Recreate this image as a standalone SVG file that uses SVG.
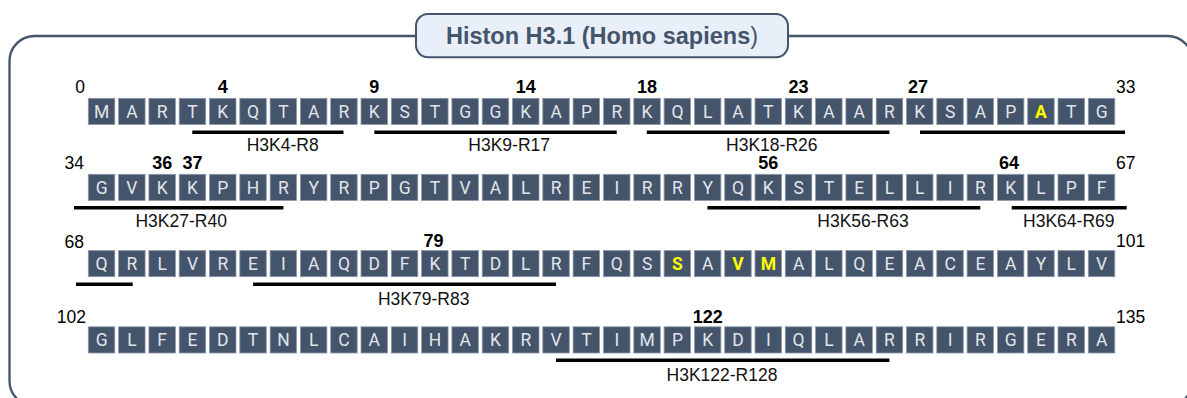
<svg xmlns="http://www.w3.org/2000/svg" xmlns:xlink="http://www.w3.org/1999/xlink" width="1187" height="398" viewBox="0 0 1187 398">
<style>
.bx{fill:#44546a;stroke:#8f9aab;stroke-width:0.8}
.aa{font-family:Roboto,"Liberation Sans",sans-serif;font-size:17.5px;fill:#e1e5eb;text-anchor:middle}
.hl{fill:#ffff00;font-weight:bold}
.num{font-family:"Liberation Sans",Arial,sans-serif;font-size:17.5px;fill:#000}
.bn{font-family:"Liberation Sans",Arial,sans-serif;font-size:18px;font-weight:bold;fill:#000;text-anchor:middle}
.lbl{font-family:"Liberation Sans",Arial,sans-serif;font-size:17.5px;fill:#111;text-anchor:middle}
.bar{stroke:#000;stroke-width:3.5;fill:none}
</style>
<defs><rect id="b" class="bx" width="26.5" height="26.2"/></defs>

<g id="frame">
<rect x="9.5" y="36" width="1183" height="370" rx="25" ry="25" fill="#fff" stroke="#44546a" stroke-width="2.3"/>
</g>
<g id="title">
<rect x="416" y="14" width="372" height="43.3" rx="12" ry="12" fill="#e9eff8" stroke="#44546a" stroke-width="2"/>
<text x="602" y="44" font-family="'Liberation Sans',Arial,sans-serif" font-size="23.5" font-weight="bold" fill="#44546a" text-anchor="middle">Histon H3.1 (Homo sapiens<tspan font-weight="normal">)</tspan></text>
</g>

<g id="row1" transform="translate(0,98.3)">
<use href="#b" x="88.3"/><use href="#b" x="118.6"/><use href="#b" x="148.9"/><use href="#b" x="179.2"/><use href="#b" x="209.5"/><use href="#b" x="239.8"/><use href="#b" x="270.1"/><use href="#b" x="300.4"/><use href="#b" x="330.7"/><use href="#b" x="361"/><use href="#b" x="391.3"/><use href="#b" x="421.6"/><use href="#b" x="451.9"/><use href="#b" x="482.2"/><use href="#b" x="512.5"/><use href="#b" x="542.8"/><use href="#b" x="573.1"/><use href="#b" x="603.5"/><use href="#b" x="633.8"/><use href="#b" x="664.1"/><use href="#b" x="694.4"/><use href="#b" x="724.7"/><use href="#b" x="755"/><use href="#b" x="785.3"/><use href="#b" x="815.6"/><use href="#b" x="845.9"/><use href="#b" x="876.2"/><use href="#b" x="906.5"/><use href="#b" x="936.8"/><use href="#b" x="967.1"/><use href="#b" x="997.4"/><use href="#b" x="1027.7"/><use href="#b" x="1058"/><use href="#b" x="1088.3"/>
<text class="aa" y="19.6"><tspan x="101.6">M</tspan><tspan x="131.9">A</tspan><tspan x="162.2">R</tspan><tspan x="192.5">T</tspan><tspan x="222.8">K</tspan><tspan x="253.1">Q</tspan><tspan x="283.4">T</tspan><tspan x="313.7">A</tspan><tspan x="344">R</tspan><tspan x="374.3">K</tspan><tspan x="404.6">S</tspan><tspan x="434.9">T</tspan><tspan x="465.2">G</tspan><tspan x="495.5">G</tspan><tspan x="525.8">K</tspan><tspan x="556.1">A</tspan><tspan x="586.4">P</tspan><tspan x="616.8">R</tspan><tspan x="647.1">K</tspan><tspan x="677.4">Q</tspan><tspan x="707.7">L</tspan><tspan x="738">A</tspan><tspan x="768.3">T</tspan><tspan x="798.6">K</tspan><tspan x="828.9">A</tspan><tspan x="859.2">A</tspan><tspan x="889.5">R</tspan><tspan x="919.8">K</tspan><tspan x="950.1">S</tspan><tspan x="980.4">A</tspan><tspan x="1010.7">P</tspan><tspan x="1041" class="hl">A</tspan><tspan x="1071.3">T</tspan><tspan x="1101.6">G</tspan></text>
<text class="num" x="85" y="-5" text-anchor="end">0</text>
<text class="num" x="1116" y="-5">33</text>
<text class="bn" y="-5"><tspan x="222.8">4</tspan><tspan x="374.3">9</tspan><tspan x="525.8">14</tspan><tspan x="647.1">18</tspan><tspan x="798.6">23</tspan><tspan x="918">27</tspan></text>
</g>

<g id="row2" transform="translate(0,174.3)">
<use href="#b" x="88.3"/><use href="#b" x="118.6"/><use href="#b" x="148.9"/><use href="#b" x="179.2"/><use href="#b" x="209.5"/><use href="#b" x="239.8"/><use href="#b" x="270.1"/><use href="#b" x="300.4"/><use href="#b" x="330.7"/><use href="#b" x="361"/><use href="#b" x="391.3"/><use href="#b" x="421.6"/><use href="#b" x="451.9"/><use href="#b" x="482.2"/><use href="#b" x="512.5"/><use href="#b" x="542.8"/><use href="#b" x="573.1"/><use href="#b" x="603.5"/><use href="#b" x="633.8"/><use href="#b" x="664.1"/><use href="#b" x="694.4"/><use href="#b" x="724.7"/><use href="#b" x="755"/><use href="#b" x="785.3"/><use href="#b" x="815.6"/><use href="#b" x="845.9"/><use href="#b" x="876.2"/><use href="#b" x="906.5"/><use href="#b" x="936.8"/><use href="#b" x="967.1"/><use href="#b" x="997.4"/><use href="#b" x="1027.7"/><use href="#b" x="1058"/><use href="#b" x="1088.3"/>
<text class="aa" y="19.6"><tspan x="101.6">G</tspan><tspan x="131.9">V</tspan><tspan x="162.2">K</tspan><tspan x="192.5">K</tspan><tspan x="222.8">P</tspan><tspan x="253.1">H</tspan><tspan x="283.4">R</tspan><tspan x="313.7">Y</tspan><tspan x="344">R</tspan><tspan x="374.3">P</tspan><tspan x="404.6">G</tspan><tspan x="434.9">T</tspan><tspan x="465.2">V</tspan><tspan x="495.5">A</tspan><tspan x="525.8">L</tspan><tspan x="556.1">R</tspan><tspan x="586.4">E</tspan><tspan x="616.8">I</tspan><tspan x="647.1">R</tspan><tspan x="677.4">R</tspan><tspan x="707.7">Y</tspan><tspan x="738">Q</tspan><tspan x="768.3">K</tspan><tspan x="798.6">S</tspan><tspan x="828.9">T</tspan><tspan x="859.2">E</tspan><tspan x="889.5">L</tspan><tspan x="919.8">L</tspan><tspan x="950.1">I</tspan><tspan x="980.4">R</tspan><tspan x="1010.7">K</tspan><tspan x="1041">L</tspan><tspan x="1071.3">P</tspan><tspan x="1101.6">F</tspan></text>
<text class="num" x="84" y="-5" text-anchor="end">34</text>
<text class="num" x="1116" y="-5">67</text>
<text class="bn" y="-5"><tspan x="162.2">36</tspan><tspan x="192.5">37</tspan><tspan x="768.3">56</tspan><tspan x="1009">64</tspan></text>
</g>

<g id="row3" transform="translate(0,250.5)">
<use href="#b" x="88.3"/><use href="#b" x="118.6"/><use href="#b" x="148.9"/><use href="#b" x="179.2"/><use href="#b" x="209.5"/><use href="#b" x="239.8"/><use href="#b" x="270.1"/><use href="#b" x="300.4"/><use href="#b" x="330.7"/><use href="#b" x="361"/><use href="#b" x="391.3"/><use href="#b" x="421.6"/><use href="#b" x="451.9"/><use href="#b" x="482.2"/><use href="#b" x="512.5"/><use href="#b" x="542.8"/><use href="#b" x="573.1"/><use href="#b" x="603.5"/><use href="#b" x="633.8"/><use href="#b" x="664.1"/><use href="#b" x="694.4"/><use href="#b" x="724.7"/><use href="#b" x="755"/><use href="#b" x="785.3"/><use href="#b" x="815.6"/><use href="#b" x="845.9"/><use href="#b" x="876.2"/><use href="#b" x="906.5"/><use href="#b" x="936.8"/><use href="#b" x="967.1"/><use href="#b" x="997.4"/><use href="#b" x="1027.7"/><use href="#b" x="1058"/><use href="#b" x="1088.3"/>
<text class="aa" y="19.6"><tspan x="101.6">Q</tspan><tspan x="131.9">R</tspan><tspan x="162.2">L</tspan><tspan x="192.5">V</tspan><tspan x="222.8">R</tspan><tspan x="253.1">E</tspan><tspan x="283.4">I</tspan><tspan x="313.7">A</tspan><tspan x="344">Q</tspan><tspan x="374.3">D</tspan><tspan x="404.6">F</tspan><tspan x="434.9">K</tspan><tspan x="465.2">T</tspan><tspan x="495.5">D</tspan><tspan x="525.8">L</tspan><tspan x="556.1">R</tspan><tspan x="586.4">F</tspan><tspan x="616.8">Q</tspan><tspan x="647.1">S</tspan><tspan x="677.4" class="hl">S</tspan><tspan x="707.7">A</tspan><tspan x="738" class="hl">V</tspan><tspan x="768.3" class="hl">M</tspan><tspan x="798.6">A</tspan><tspan x="828.9">L</tspan><tspan x="859.2">Q</tspan><tspan x="889.5">E</tspan><tspan x="919.8">A</tspan><tspan x="950.1">C</tspan><tspan x="980.4">E</tspan><tspan x="1010.7">A</tspan><tspan x="1041">Y</tspan><tspan x="1071.3">L</tspan><tspan x="1101.6">V</tspan></text>
<text class="num" x="84" y="-3" text-anchor="end">68</text>
<text class="num" x="1116" y="-4">101</text>
<text class="bn" y="-3.5"><tspan x="433.5">79</tspan></text>
</g>

<g id="row4" transform="translate(0,326.8)">
<use href="#b" x="88.3"/><use href="#b" x="118.6"/><use href="#b" x="148.9"/><use href="#b" x="179.2"/><use href="#b" x="209.5"/><use href="#b" x="239.8"/><use href="#b" x="270.1"/><use href="#b" x="300.4"/><use href="#b" x="330.7"/><use href="#b" x="361"/><use href="#b" x="391.3"/><use href="#b" x="421.6"/><use href="#b" x="451.9"/><use href="#b" x="482.2"/><use href="#b" x="512.5"/><use href="#b" x="542.8"/><use href="#b" x="573.1"/><use href="#b" x="603.5"/><use href="#b" x="633.8"/><use href="#b" x="664.1"/><use href="#b" x="694.4"/><use href="#b" x="724.7"/><use href="#b" x="755"/><use href="#b" x="785.3"/><use href="#b" x="815.6"/><use href="#b" x="845.9"/><use href="#b" x="876.2"/><use href="#b" x="906.5"/><use href="#b" x="936.8"/><use href="#b" x="967.1"/><use href="#b" x="997.4"/><use href="#b" x="1027.7"/><use href="#b" x="1058"/><use href="#b" x="1088.3"/>
<text class="aa" y="19.6"><tspan x="101.6">G</tspan><tspan x="131.9">L</tspan><tspan x="162.2">F</tspan><tspan x="192.5">E</tspan><tspan x="222.8">D</tspan><tspan x="253.1">T</tspan><tspan x="283.4">N</tspan><tspan x="313.7">L</tspan><tspan x="344">C</tspan><tspan x="374.3">A</tspan><tspan x="404.6">I</tspan><tspan x="434.9">H</tspan><tspan x="465.2">A</tspan><tspan x="495.5">K</tspan><tspan x="525.8">R</tspan><tspan x="556.1">V</tspan><tspan x="586.4">T</tspan><tspan x="616.8">I</tspan><tspan x="647.1">M</tspan><tspan x="677.4">P</tspan><tspan x="707.7">K</tspan><tspan x="738">D</tspan><tspan x="768.3">I</tspan><tspan x="798.6">Q</tspan><tspan x="828.9">L</tspan><tspan x="859.2">A</tspan><tspan x="889.5">R</tspan><tspan x="919.8">R</tspan><tspan x="950.1">I</tspan><tspan x="980.4">R</tspan><tspan x="1010.7">G</tspan><tspan x="1041">E</tspan><tspan x="1071.3">R</tspan><tspan x="1101.6">A</tspan></text>
<text class="num" x="86" y="-4.2" text-anchor="end">102</text>
<text class="num" x="1116" y="-4.2">135</text>
<text class="bn" y="-4.2"><tspan x="707.7">122</tspan></text>
</g>

<g id="connectors">
<path class="bar" d="M192.3 132.2H343.5M374.3 132.2H616.7M646.8 132.2H889.4M920 132.2H1125"/>
<path class="bar" d="M74 207.7H283.4M707.4 207.7H980.3M1011.7 207.7H1126.7"/>
<path class="bar" d="M76 284.3H132.7M253.1 284.3H556"/>
<path class="bar" d="M556 360.3H889.4"/>
</g>

<g id="labels">
<text class="lbl" x="282.7" y="151">H3K4-R8</text>
<text class="lbl" x="509.2" y="151">H3K9-R17</text>
<text class="lbl" x="771.8" y="151">H3K18-R26</text>
<text class="lbl" x="181.2" y="227">H3K27-R40</text>
<text class="lbl" x="863" y="227">H3K56-R63</text>
<text class="lbl" x="1068.8" y="227">H3K64-R69</text>
<text class="lbl" x="423.7" y="305">H3K79-R83</text>
<text class="lbl" x="722" y="380.7">H3K122-R128</text>
</g>
</svg>
